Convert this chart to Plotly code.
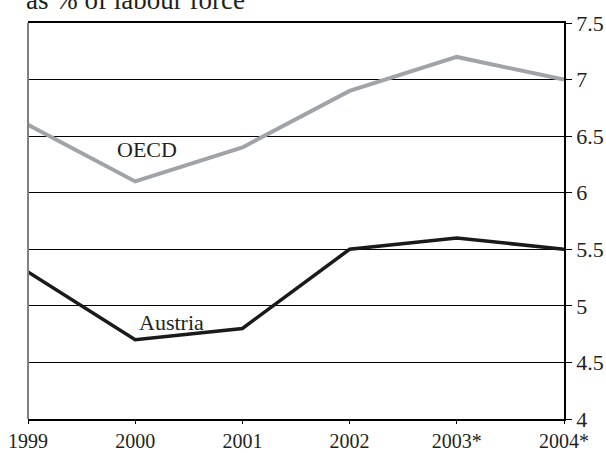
import plotly.graph_objects as go

years = ["1999", "2000", "2001", "2002", "2003*", "2004*"]
oecd = [6.6, 6.1, 6.4, 6.9, 7.2, 7.0]
austria = [5.3, 4.7, 4.8, 5.5, 5.6, 5.5]
yticks = [4, 4.5, 5, 5.5, 6, 6.5, 7, 7.5]
ytick_labels = ["4", "4.5", "5", "5.5", "6", "6.5", "7", "7.5"]

xs = list(range(len(years)))
font = "Liberation Serif, Times New Roman, serif"

fig = go.Figure()
fig.add_trace(go.Scatter(x=xs, y=oecd, mode="lines", line=dict(color="#A0A4A8", width=4), showlegend=False))
fig.add_trace(go.Scatter(x=xs, y=austria, mode="lines", line=dict(color="#1a1a1a", width=3.5), showlegend=False))

fig.update_layout(
    width=606, height=453,
    margin=dict(l=28, r=42, t=23, b=34, autoexpand=False),
    paper_bgcolor="white", plot_bgcolor="white",
    font=dict(family=font, size=22, color="#231f20"),
    xaxis=dict(range=[0, 5], tickvals=xs, ticktext=years, showgrid=False, zeroline=False,
               showline=True, linecolor="black", linewidth=1.5, mirror=True, automargin=False,
               ticks="outside", ticklen=3, tickcolor="black", tickfont=dict(size=20)),
    yaxis=dict(range=[4, 7.5], side="right", tickvals=yticks, ticktext=ytick_labels,
               showgrid=True, gridcolor="black", gridwidth=1, zeroline=False, automargin=False,
               showline=True, linecolor="black", linewidth=1.5,
               ticks="outside", ticklen=6, tickcolor="black", tickfont=dict(size=22)),
    shapes=[dict(type="line", xref="paper", yref="paper", x0=0, x1=0, y0=0, y1=1,
                 line=dict(color="#808080", width=2))],
    annotations=[
        dict(text="as % of labour force", xref="paper", yref="paper", x=-0.008, y=1.0, yshift=6,
             xanchor="left", yanchor="bottom", showarrow=False, font=dict(size=27)),
        dict(text="OECD", x=1.11, y=6.38, xref="x", yref="y", showarrow=False, font=dict(size=22)),
        dict(text="Austria", x=1.34, y=4.85, xref="x", yref="y", showarrow=False, font=dict(size=22)),
    ],
)
fig.write_html("out.html", config={"displayModeBar": False},
               post_script="document.body.style.margin='0';document.body.style.overflow='hidden';")
